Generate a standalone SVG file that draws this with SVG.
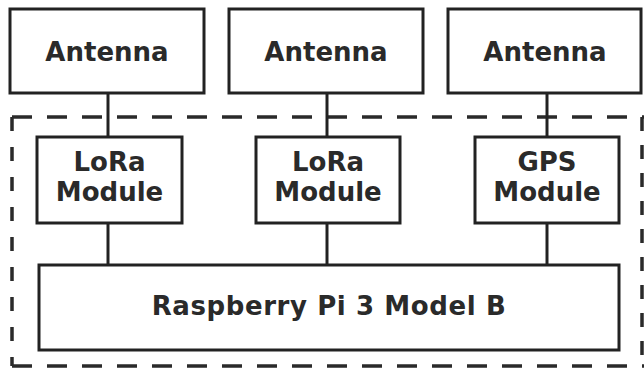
<svg xmlns="http://www.w3.org/2000/svg" width="644" height="372" viewBox="0 0 644 372">
<style>
.box{fill:#fff;stroke:#222;stroke-width:3}
.lbl{font-family:"DejaVu Sans",sans-serif;font-weight:bold;font-size:26px;fill:#2a2a2a;text-anchor:middle}
.wire{stroke:#222;stroke-width:3;fill:none}
.dash{stroke:#2a2a2a;stroke-width:3.5;fill:none}
</style>
<rect width="644" height="372" fill="#fff"/>
<g id="boundary">
<line class="dash" x1="12" y1="117" x2="644" y2="117" stroke-dasharray="20 15"/>
<line class="dash" x1="12" y1="366" x2="644" y2="366" stroke-dasharray="20 15"/>
<line class="dash" x1="12" y1="117" x2="12" y2="366" stroke-dasharray="14 16"/>
<line class="dash" x1="642" y1="117" x2="642" y2="366" stroke-dasharray="14 14" stroke="#bbb"/>
</g>
<g id="connectors">
<line class="wire" x1="108" y1="93" x2="108" y2="137"/>
<line class="wire" x1="327" y1="93" x2="327" y2="137"/>
<line class="wire" x1="547" y1="93" x2="547" y2="137"/>
<line class="wire" x1="108" y1="223" x2="108" y2="265"/>
<line class="wire" x1="327" y1="223" x2="327" y2="265"/>
<line class="wire" x1="547" y1="223" x2="547" y2="265"/>
</g>
<g id="antenna1"><rect class="box" x="10" y="9" width="194" height="84"/><text class="lbl" x="107" y="61">Antenna</text></g>
<g id="antenna2"><rect class="box" x="229" y="9" width="194" height="84"/><text class="lbl" x="326" y="61">Antenna</text></g>
<g id="antenna3"><rect class="box" x="448" y="9" width="193" height="84"/><text class="lbl" x="545" y="61">Antenna</text></g>
<g id="lora1"><rect class="box" x="37" y="137" width="145" height="86"/><text class="lbl" x="109.5" y="171">LoRa</text><text class="lbl" x="109.5" y="201">Module</text></g>
<g id="lora2"><rect class="box" x="256" y="137" width="144" height="86"/><text class="lbl" x="328" y="171">LoRa</text><text class="lbl" x="328" y="201">Module</text></g>
<g id="gps"><rect class="box" x="475" y="137" width="144" height="86"/><text class="lbl" x="547" y="171">GPS</text><text class="lbl" x="547" y="201">Module</text></g>
<g id="rpi"><rect class="box" x="39" y="265" width="580" height="85"/><text class="lbl" x="329" y="315" letter-spacing="0.6">Raspberry Pi 3 Model B</text></g>
</svg>
